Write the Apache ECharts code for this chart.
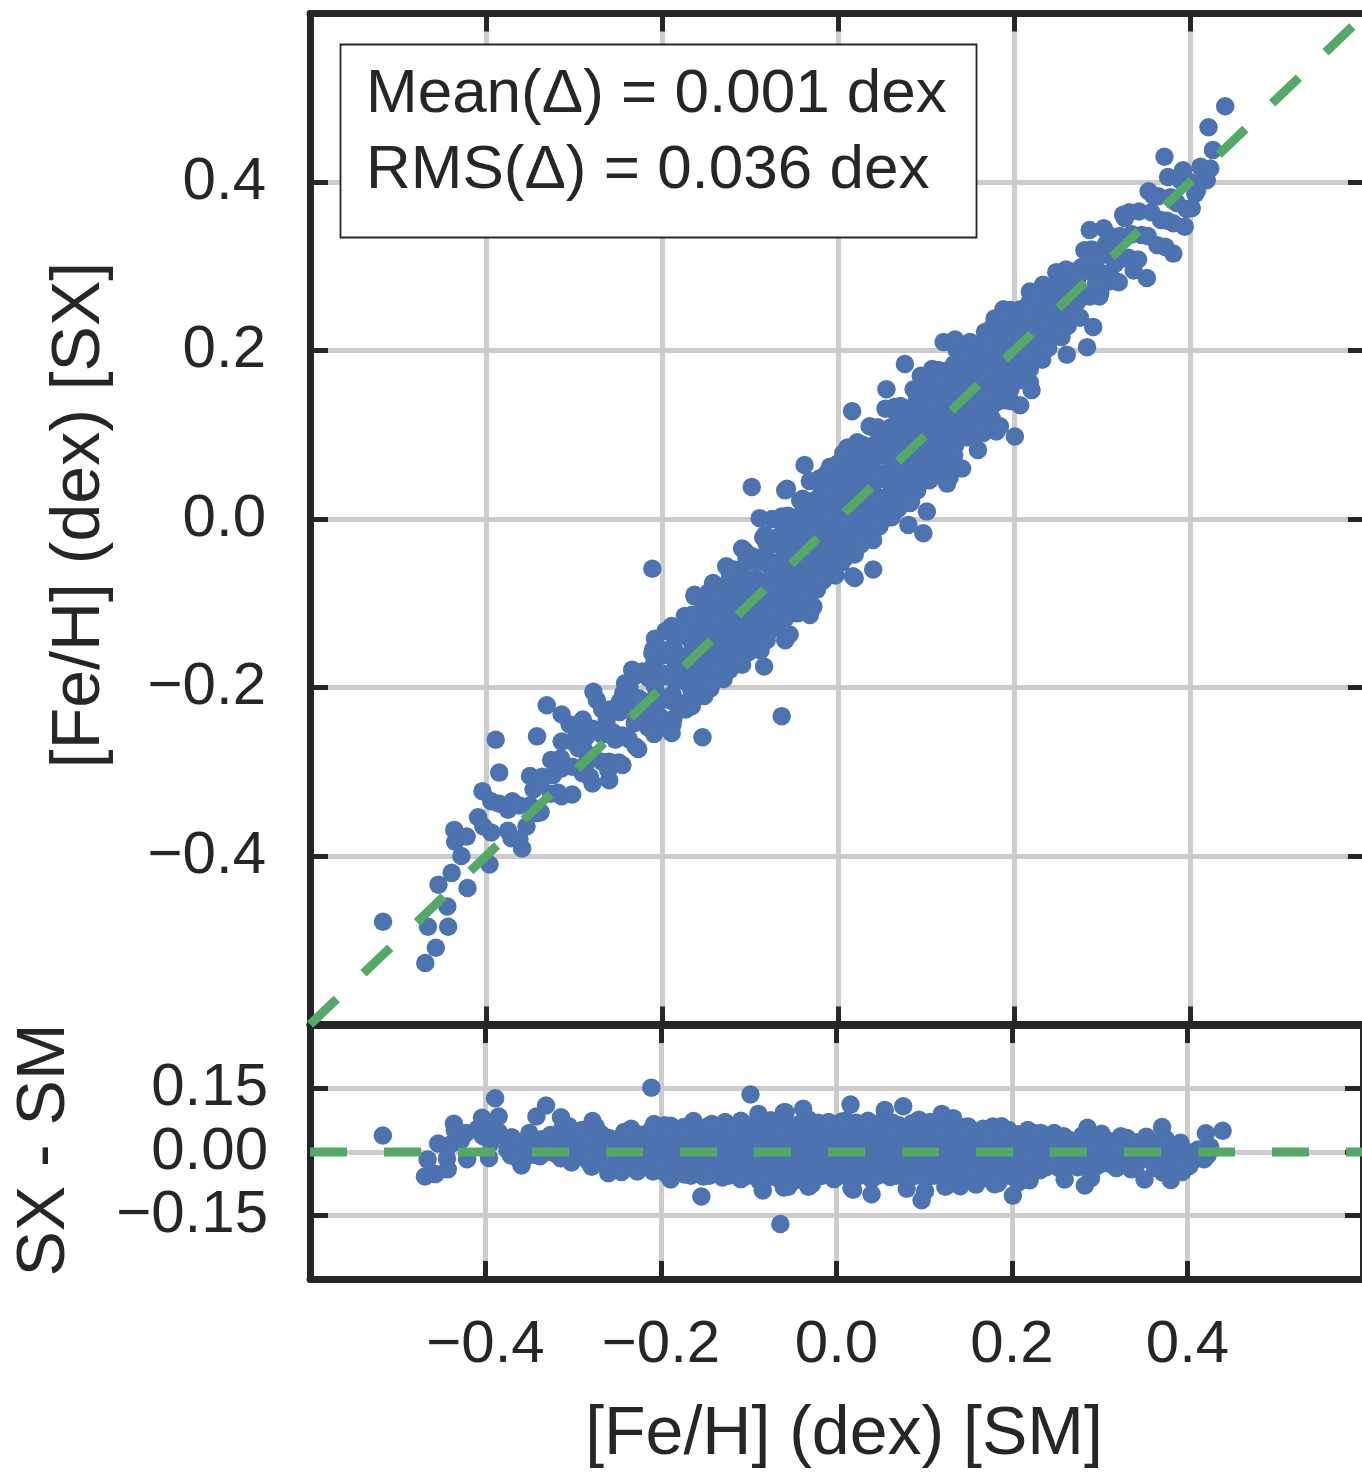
<!DOCTYPE html>
<html>
<head>
<meta charset="utf-8">
<script src="https://cdn.jsdelivr.net/npm/echarts@6/dist/echarts.min.js"></script>
<style>
html,body{margin:0;padding:0;background:#fff;overflow:hidden;}
#chart{width:1366px;height:1472px;}
</style>
</head>
<body>
<div id="chart"></div>
<script>
// ---- data: [Fe/H] SM (x) , [Fe/H] SX (y) pairs ----
const xTicks = [-0.4, -0.2, 0.0, 0.2, 0.4];
const yTicksMain = [-0.4, -0.2, 0.0, 0.2, 0.4];
const yTicksResid = [-0.15, 0.0, 0.15];
const oneToOne = [[-0.6, -0.6], [0.6, 0.6]];
const zeroLine = [[-0.6, 0], [0.6, 0]];

const lowTail = [
[-0.517,-0.478],[-0.469,-0.527],[-0.457,-0.509],[-0.466,-0.484],[-0.443,-0.484],[-0.444,-0.460],[-0.454,-0.434],[-0.439,-0.420],[-0.421,-0.438],[-0.428,-0.400],
[-0.436,-0.369],[-0.435,-0.383],[-0.422,-0.377],[-0.409,-0.354],[-0.403,-0.365],[-0.394,-0.372],[-0.396,-0.410],[-0.404,-0.323],[-0.394,-0.335],[-0.385,-0.338],
[-0.370,-0.335],[-0.389,-0.262],[-0.385,-0.301],[-0.371,-0.379],[-0.359,-0.391],[-0.354,-0.365],[-0.342,-0.349],[-0.346,-0.321],[-0.336,-0.306],[-0.324,-0.304],
[-0.318,-0.325],[-0.315,-0.284],[-0.342,-0.258],[-0.331,-0.221],[-0.314,-0.232],[-0.305,-0.244],[-0.297,-0.256],[-0.286,-0.258],[-0.295,-0.272],[-0.286,-0.290],
[-0.282,-0.306],[-0.260,-0.310],[-0.261,-0.298],[-0.245,-0.292],[-0.263,-0.240],[-0.253,-0.262],[-0.278,-0.205],[-0.274,-0.215],[-0.248,-0.217],[-0.242,-0.195],
[-0.229,-0.235],[-0.214,-0.223],[-0.210,-0.242],
[-0.375,-0.370],[-0.375,-0.345],[-0.362,-0.380],[-0.362,-0.340],[-0.350,-0.340],[-0.350,-0.305],[-0.338,-0.348],[-0.338,-0.313],[-0.326,-0.326],[-0.326,-0.286],
[-0.314,-0.329],[-0.314,-0.296],[-0.314,-0.264],[-0.302,-0.327],[-0.302,-0.294],[-0.302,-0.264],[-0.290,-0.302],[-0.290,-0.270],[-0.290,-0.238],
[-0.279,-0.314],[-0.279,-0.281],[-0.279,-0.249],[-0.268,-0.288],[-0.268,-0.256],[-0.268,-0.226]
];

const edgeStars = [
[-0.211,-0.059],[-0.064,-0.234],[-0.189,-0.254],[-0.154,-0.259],[-0.098,0.038],[-0.038,0.064],[-0.058,0.036],
[-0.089,0.001],[-0.109,-0.035],[-0.120,-0.063],[-0.142,-0.076],[-0.163,-0.090],[-0.166,-0.114],[-0.176,-0.134],[-0.208,-0.142],[-0.210,-0.155],[-0.234,-0.179],
[-0.202,-0.235],[-0.145,-0.199],[-0.084,-0.175],[-0.060,-0.144],[-0.081,-0.144],[-0.028,-0.104],[0.017,-0.068],[0.006,0.078],[-0.013,0.054],[-0.060,0.034],
[-0.011,0.053],[0.016,0.128],[0.036,0.110],[0.055,0.154],[0.076,0.184],[0.094,0.170],[0.120,0.210],[0.133,0.213],[0.178,0.238],[0.194,0.236],
[0.207,0.135],[0.201,0.098],[0.159,0.082],[0.180,0.104],[0.165,0.102],[0.141,0.060],[0.127,0.050],[0.101,0.009],[0.097,-0.017],[0.080,-0.007],
[0.082,0.019],[0.040,-0.060],[0.019,-0.070],[-0.118,-0.060],
[-0.009,0.062],[0.150,0.210],[0.192,0.244],[0.233,0.278],[0.124,0.042],[0.158,0.104],[0.184,0.110],[-0.055,-0.137],[-0.032,-0.114],[-0.111,-0.170]
];

const upperStars = [
[0.440,0.490],[0.421,0.465],[0.371,0.430],[0.426,0.438],[0.423,0.416],[0.419,0.402],
[0.392,0.414],[0.404,0.398],[0.406,0.386],[0.402,0.369],[0.358,0.384],[0.394,0.347],[0.381,0.351],[0.381,0.315],[0.372,0.323],[0.351,0.286],
[0.336,0.295],[0.326,0.357],[0.286,0.343],[0.288,0.320],[0.305,0.327],[0.317,0.329],[0.277,0.299],[0.313,0.284],[0.298,0.268],[0.235,0.276],
[0.252,0.286],[0.226,0.266],[0.290,0.228],[0.283,0.204],[0.260,0.195],[0.249,0.224],[0.171,0.208],[0.141,0.193],[0.220,0.153],[0.116,0.165],
[0.266,0.240],[0.268,0.267],[0.265,0.294],[0.275,0.239],[0.279,0.266],[0.276,0.293],[0.280,0.319],
[0.286,0.264],[0.290,0.292],[0.287,0.318],[0.297,0.264],[0.301,0.291],[0.298,0.319],[0.302,0.345],
[0.308,0.282],[0.312,0.310],[0.309,0.336],[0.319,0.281],[0.323,0.309],[0.320,0.336],[0.324,0.361],
[0.330,0.310],[0.334,0.338],[0.331,0.364],[0.341,0.308],[0.345,0.337],[0.342,0.365],
[0.352,0.336],[0.356,0.364],[0.353,0.389],[0.363,0.325],[0.367,0.355],[0.364,0.383],
[0.374,0.354],[0.378,0.382],[0.375,0.406],[0.385,0.375],[0.389,0.402],[0.396,0.368],[0.400,0.400],[0.408,0.390],[0.412,0.418],
[0.272,0.258],[0.272,0.284],[0.293,0.279],[0.293,0.305],[0.315,0.303],[0.315,0.329]
];

const coreStars = [
[-0.260,-0.288],[-0.256,-0.253],[-0.259,-0.226],
[-0.249,-0.289],[-0.245,-0.257],[-0.248,-0.229],[-0.244,-0.207],
[-0.238,-0.261],[-0.234,-0.228],[-0.237,-0.200],
[-0.227,-0.273],[-0.223,-0.240],[-0.226,-0.213],[-0.222,-0.181],
[-0.216,-0.247],[-0.212,-0.216],[-0.215,-0.189],[-0.211,-0.159],
[-0.205,-0.243],[-0.201,-0.215],[-0.204,-0.187],[-0.200,-0.162],
[-0.195,-0.245],[-0.191,-0.215],[-0.194,-0.187],[-0.190,-0.163],[-0.196,-0.133],
[-0.184,-0.218],[-0.180,-0.190],[-0.183,-0.162],[-0.179,-0.135],
[-0.173,-0.226],[-0.169,-0.197],[-0.172,-0.169],[-0.168,-0.143],[-0.174,-0.115],
[-0.162,-0.203],[-0.158,-0.174],[-0.161,-0.147],[-0.157,-0.120],[-0.163,-0.092],
[-0.152,-0.210],[-0.148,-0.180],[-0.151,-0.154],[-0.147,-0.128],[-0.153,-0.101],
[-0.141,-0.186],[-0.137,-0.157],[-0.140,-0.130],[-0.136,-0.104],[-0.142,-0.077],
[-0.130,-0.190],[-0.126,-0.161],[-0.129,-0.134],[-0.125,-0.108],[-0.131,-0.082],[-0.127,-0.056],
[-0.120,-0.168],[-0.116,-0.139],[-0.119,-0.112],[-0.115,-0.086],
[-0.109,-0.173],[-0.105,-0.145],[-0.108,-0.117],[-0.104,-0.091],[-0.110,-0.064],[-0.106,-0.038],
[-0.099,-0.151],[-0.095,-0.123],[-0.098,-0.096],[-0.094,-0.070],[-0.100,-0.043],
[-0.088,-0.156],[-0.084,-0.128],[-0.087,-0.100],[-0.083,-0.074],[-0.089,-0.048],[-0.085,-0.022],
[-0.078,-0.133],[-0.074,-0.105],[-0.077,-0.078],[-0.073,-0.052],[-0.079,-0.026],[-0.075,0.000],
[-0.067,-0.129],[-0.063,-0.101],[-0.066,-0.073],[-0.062,-0.047],[-0.068,-0.021],[-0.064,0.003],
[-0.056,-0.104],[-0.052,-0.076],[-0.055,-0.049],[-0.051,-0.023],[-0.057,0.004],
[-0.046,-0.112],[-0.042,-0.084],[-0.045,-0.056],[-0.041,-0.030],[-0.047,-0.004],[-0.043,0.022],
[-0.035,-0.088],[-0.031,-0.060],[-0.034,-0.033],[-0.030,-0.007],[-0.036,0.019],[-0.032,0.045],
[-0.024,-0.084],[-0.020,-0.056],[-0.023,-0.029],[-0.019,-0.003],[-0.025,0.023],[-0.021,0.048],
[-0.014,-0.060],[-0.010,-0.032],[-0.013,-0.005],[-0.009,0.021],[-0.015,0.048],
[-0.003,-0.067],[0.001,-0.039],[-0.002,-0.012],[0.002,0.014],[-0.004,0.040],[0.000,0.066],
[0.008,-0.046],[0.012,-0.018],[0.009,0.008],[0.013,0.034],[0.007,0.060],[0.011,0.085],
[0.019,-0.042],[0.023,-0.014],[0.020,0.013],[0.024,0.039],[0.018,0.065],[0.022,0.091],
[0.029,-0.019],[0.033,0.009],[0.030,0.035],[0.034,0.061],[0.028,0.088],
[0.040,-0.025],[0.044,0.002],[0.041,0.029],[0.045,0.055],[0.039,0.081],[0.043,0.107],
[0.051,-0.001],[0.055,0.026],[0.052,0.053],[0.056,0.079],[0.050,0.105],[0.054,0.131],
[0.061,0.002],[0.065,0.030],[0.062,0.057],[0.066,0.083],[0.060,0.109],[0.064,0.133],
[0.072,0.027],[0.076,0.055],[0.073,0.082],[0.077,0.108],[0.071,0.134],
[0.083,0.021],[0.087,0.049],[0.084,0.076],[0.088,0.102],[0.082,0.128],[0.086,0.154],
[0.093,0.043],[0.097,0.071],[0.094,0.098],[0.098,0.124],[0.092,0.150],
[0.104,0.046],[0.108,0.074],[0.105,0.101],[0.109,0.127],[0.103,0.153],[0.107,0.178],
[0.115,0.072],[0.119,0.099],[0.116,0.126],[0.120,0.152],[0.114,0.177],
[0.125,0.069],[0.129,0.097],[0.126,0.124],[0.130,0.150],[0.124,0.176],
[0.136,0.094],[0.140,0.122],[0.137,0.149],[0.141,0.175],[0.135,0.200],
[0.147,0.097],[0.151,0.126],[0.148,0.153],[0.152,0.179],[0.146,0.205],
[0.157,0.119],[0.161,0.147],[0.158,0.174],[0.162,0.201],
[0.168,0.114],[0.172,0.143],[0.169,0.170],[0.173,0.197],[0.167,0.222],
[0.179,0.138],[0.183,0.166],[0.180,0.193],[0.184,0.219],
[0.189,0.141],[0.193,0.169],[0.190,0.197],[0.194,0.224],[0.188,0.249],
[0.200,0.165],[0.204,0.192],[0.201,0.219],[0.205,0.245],
[0.211,0.165],[0.215,0.193],[0.212,0.221],[0.216,0.248],
[0.221,0.190],[0.225,0.218],[0.222,0.245],[0.226,0.270],
[0.232,0.189],[0.236,0.217],[0.233,0.244],[0.237,0.270],
[0.243,0.215],[0.247,0.242],[0.244,0.269],[0.248,0.293],
[0.254,0.216],[0.258,0.243],[0.255,0.270],[0.259,0.296]
];

const fillStars = [
[-0.155,-0.183],[-0.155,-0.155],[-0.155,-0.125],
[-0.134,-0.174],[-0.134,-0.146],[-0.134,-0.116],[-0.134,-0.086],
[-0.112,-0.142],[-0.112,-0.112],[-0.112,-0.084],
[-0.091,-0.136],[-0.091,-0.106],[-0.091,-0.076],[-0.091,-0.046],
[-0.070,-0.090],[-0.070,-0.060],[-0.070,-0.030],
[-0.049,-0.084],[-0.049,-0.054],[-0.049,-0.024],[-0.049,0.001],
[-0.028,-0.070],[-0.028,-0.042],[-0.028,-0.014],[-0.028,0.012],
[-0.006,-0.034],[-0.006,-0.004],[-0.006,0.024],[-0.006,0.049],
[0.015,-0.030],[0.015,0.000],[0.015,0.027],[0.015,0.053],
[0.036,0.006],[0.036,0.034],[0.036,0.062],[0.036,0.086],
[0.058,0.018],[0.058,0.046],[0.058,0.073],[0.058,0.098],
[0.079,0.054],[0.079,0.081],[0.079,0.107],[0.079,0.131],
[0.100,0.062],[0.100,0.090],[0.100,0.116],[0.100,0.142],
[0.122,0.094],[0.122,0.122],[0.122,0.147],
[0.143,0.108],[0.143,0.135],[0.143,0.161],[0.143,0.186],
[0.165,0.143],[0.165,0.170],[0.165,0.195]
];

const denseStars = [
[-0.230,-0.270],[-0.231,-0.242],[-0.229,-0.214],[-0.230,-0.186],
[-0.209,-0.255],[-0.210,-0.227],[-0.208,-0.199],[-0.209,-0.171],
[-0.187,-0.237],[-0.188,-0.208],[-0.186,-0.179],[-0.187,-0.151],[-0.189,-0.127],
[-0.166,-0.206],[-0.167,-0.178],[-0.165,-0.150],[-0.166,-0.122],
[-0.145,-0.197],[-0.146,-0.169],[-0.144,-0.141],[-0.145,-0.113],[-0.147,-0.087],
[-0.123,-0.169],[-0.124,-0.141],[-0.122,-0.113],[-0.123,-0.085],[-0.125,-0.059],
[-0.102,-0.158],[-0.103,-0.130],[-0.101,-0.102],[-0.102,-0.074],[-0.104,-0.046],
[-0.081,-0.131],[-0.082,-0.103],[-0.080,-0.075],[-0.081,-0.047],[-0.083,-0.019],
[-0.060,-0.118],[-0.061,-0.090],[-0.059,-0.062],[-0.060,-0.034],[-0.062,-0.006],
[-0.038,-0.088],[-0.039,-0.060],[-0.037,-0.032],[-0.038,-0.004],[-0.040,0.024],
[-0.017,-0.073],[-0.018,-0.045],[-0.016,-0.017],[-0.017,0.011],[-0.019,0.039],
[0.004,-0.048],[0.003,-0.020],[0.005,0.008],[0.004,0.036],[0.002,0.062],
[0.026,-0.030],[0.025,-0.002],[0.027,0.026],[0.026,0.054],[0.024,0.082],
[0.047,-0.003],[0.046,0.025],[0.048,0.053],[0.047,0.081],[0.045,0.109],
[0.069,0.015],[0.068,0.043],[0.070,0.071],[0.069,0.099],[0.067,0.125],
[0.090,0.042],[0.089,0.070],[0.091,0.098],[0.090,0.126],[0.088,0.152],
[0.111,0.059],[0.110,0.087],[0.112,0.115],[0.111,0.143],[0.109,0.169],
[0.133,0.087],[0.132,0.115],[0.134,0.143],[0.133,0.171],
[0.154,0.106],[0.153,0.134],[0.155,0.162],[0.154,0.190],
[0.175,0.135],[0.174,0.163],[0.176,0.191],[0.175,0.219],
[0.186,0.158],[0.187,0.186],[0.185,0.212],
[0.196,0.154],[0.195,0.182],[0.197,0.210],[0.196,0.236],
[0.207,0.177],[0.208,0.205],[0.206,0.233],
[0.218,0.178],[0.217,0.206],[0.219,0.234],[0.218,0.258],
[0.228,0.204],[0.229,0.232],[0.227,0.258],
[0.239,0.203],[0.238,0.231],[0.240,0.259],
[0.250,0.226],[0.251,0.254],[0.249,0.280],
[0.261,0.229],[0.260,0.257],[0.262,0.283]
];

const packStars = [
[-0.198,-0.240],[-0.198,-0.212],[-0.198,-0.184],[-0.198,-0.156],
[-0.188,-0.244],[-0.188,-0.216],[-0.188,-0.188],[-0.188,-0.160],[-0.188,-0.136],
[-0.177,-0.219],[-0.177,-0.191],[-0.177,-0.163],[-0.177,-0.135],
[-0.166,-0.222],[-0.166,-0.194],[-0.166,-0.166],[-0.166,-0.138],[-0.166,-0.114],
[-0.155,-0.197],[-0.155,-0.169],[-0.155,-0.141],[-0.155,-0.113],
[-0.145,-0.201],[-0.145,-0.173],[-0.145,-0.145],[-0.145,-0.117],[-0.145,-0.093],
[-0.134,-0.176],[-0.134,-0.148],[-0.134,-0.120],[-0.134,-0.092],
[-0.123,-0.179],[-0.123,-0.151],[-0.123,-0.123],[-0.123,-0.095],[-0.123,-0.071],
[-0.113,-0.155],[-0.113,-0.127],[-0.113,-0.099],[-0.113,-0.071],
[-0.102,-0.158],[-0.102,-0.130],[-0.102,-0.102],[-0.102,-0.074],[-0.102,-0.050],
[-0.092,-0.134],[-0.092,-0.106],[-0.092,-0.078],[-0.092,-0.050],
[-0.081,-0.137],[-0.081,-0.109],[-0.081,-0.081],[-0.081,-0.053],[-0.081,-0.029],
[-0.071,-0.113],[-0.071,-0.085],[-0.071,-0.057],[-0.071,-0.029],
[-0.060,-0.116],[-0.060,-0.088],[-0.060,-0.060],[-0.060,-0.032],[-0.060,-0.008],
[-0.049,-0.091],[-0.049,-0.063],[-0.049,-0.035],[-0.049,-0.007],
[-0.039,-0.095],[-0.039,-0.067],[-0.039,-0.039],[-0.039,-0.011],[-0.039,0.013],
[-0.028,-0.070],[-0.028,-0.042],[-0.028,-0.014],[-0.028,0.014],
[-0.017,-0.073],[-0.017,-0.045],[-0.017,-0.017],[-0.017,0.011],[-0.017,0.035],
[-0.007,-0.049],[-0.007,-0.021],[-0.007,0.007],[-0.007,0.035],
[0.004,-0.052],[0.004,-0.024],[0.004,0.004],[0.004,0.032],[0.004,0.056],
[0.015,-0.027],[0.015,0.001],[0.015,0.029],[0.015,0.057],
[0.026,-0.030],[0.026,-0.002],[0.026,0.026],[0.026,0.054],[0.026,0.078],
[0.036,-0.006],[0.036,0.022],[0.036,0.050],[0.036,0.078],
[0.047,-0.009],[0.047,0.019],[0.047,0.047],[0.047,0.075],[0.047,0.099],
[0.058,0.016],[0.058,0.044],[0.058,0.072],[0.058,0.100],
[0.068,0.012],[0.068,0.040],[0.068,0.068],[0.068,0.096],[0.068,0.120],
[0.079,0.037],[0.079,0.065],[0.079,0.093],[0.079,0.121],
[0.090,0.034],[0.090,0.062],[0.090,0.090],[0.090,0.118],[0.090,0.142],
[0.100,0.058],[0.100,0.086],[0.100,0.114],[0.100,0.142],
[0.111,0.055],[0.111,0.083],[0.111,0.111],[0.111,0.139],[0.111,0.163],
[0.122,0.080],[0.122,0.108],[0.122,0.136],[0.122,0.164],
[0.132,0.076],[0.132,0.104],[0.132,0.132],[0.132,0.160],[0.132,0.184],
[0.143,0.101],[0.143,0.129],[0.143,0.157],[0.143,0.185],
[0.154,0.098],[0.154,0.126],[0.154,0.154],[0.154,0.182],[0.154,0.206],
[0.164,0.122],[0.164,0.150],[0.164,0.178],[0.164,0.206],
[0.175,0.119],[0.175,0.147],[0.175,0.175],[0.175,0.203],[0.175,0.227],
[0.186,0.144],[0.186,0.172],[0.186,0.200],[0.186,0.228],
[0.196,0.140],[0.196,0.168],[0.196,0.196],[0.196,0.224],[0.196,0.248],
[0.207,0.165],[0.207,0.193],[0.207,0.221],[0.207,0.249],
[0.218,0.162],[0.218,0.190],[0.218,0.218],[0.218,0.246],[0.218,0.270]
];

const stars = [].concat(lowTail, coreStars, fillStars, denseStars, packStars, edgeStars, upperStars);
const resid = stars.map(p => [p[0], +(p[1] - p[0]).toFixed(4)]);

// ---- styling ----
const INK = '#262626', GRIDC = '#cccccc', BLUE = '#4c72b0', GREEN = '#55a868';
const FONT = '"Liberation Sans", Arial, Helvetica, sans-serif';
const fmt = (d) => (v) => {
  if (Math.abs(v) > 0.55 && d === 1) return '';
  if (Math.abs(v) > 0.29 && d === 2) return '';
  if (Math.abs(v) < 1e-9) v = 0;
  return v.toFixed(d).replace('-', '\u2212');
};
function axis(base) {
  return Object.assign({
    type: 'value',
    axisLine: { show: true, onZero: false, lineStyle: { color: INK, width: 7 } },
    axisTick: { show: true, inside: true, length: 18, lineStyle: { color: INK, width: 5 } },
    axisLabel: { show: false },
    splitLine: { show: false },
    silent: true
  }, base);
}
const splitOn = { show: true, lineStyle: { color: GRIDC, width: 5 } };
const labelStyle = (d, margin) => ({ show: true, color: INK, fontSize: 60, fontFamily: FONT, margin: margin, formatter: fmt(d) });

const option = {
  animation: false,
  backgroundColor: '#ffffff',
  grid: [
    { left: 310, top: 13.5, width: 1056, height: 1011 },
    { left: 310, top: 1025, width: 1056, height: 254 }
  ],
  xAxis: [
    axis({ gridIndex: 0, position: 'bottom', min: -0.6, max: 0.6, interval: 0.2, splitLine: splitOn }),
    axis({ gridIndex: 0, position: 'top', min: -0.6, max: 0.6, interval: 0.2 }),
    axis({ gridIndex: 1, position: 'bottom', min: -0.6, max: 0.6, interval: 0.2, splitLine: splitOn, axisLabel: labelStyle(1, 36) }),
    axis({ gridIndex: 1, position: 'top', min: -0.6, max: 0.6, interval: 0.2 })
  ],
  yAxis: [
    axis({ gridIndex: 0, position: 'left', min: -0.6, max: 0.6, interval: 0.2, splitLine: splitOn, axisLabel: labelStyle(1, 44) }),
    axis({ gridIndex: 0, position: 'right', min: -0.6, max: 0.6, interval: 0.2 }),
    axis({ gridIndex: 1, position: 'left', min: -0.3, max: 0.3, interval: 0.15, splitLine: splitOn, axisLabel: labelStyle(2, 42) }),
    axis({ gridIndex: 1, position: 'right', min: -0.3, max: 0.3, interval: 0.15 })
  ],
  series: [
    { type: 'scatter', xAxisIndex: 0, yAxisIndex: 0, data: stars, symbol: 'circle', symbolSize: 18.5,
      itemStyle: { color: BLUE, opacity: 1, borderWidth: 0 }, z: 3, silent: true, large: false, progressive: 0 },
    { type: 'line', xAxisIndex: 0, yAxisIndex: 0, data: oneToOne, symbol: 'none',
      lineStyle: { color: GREEN, width: 9, type: [37, 37], cap: 'butt' }, z: 4, silent: true },
    { type: 'scatter', xAxisIndex: 2, yAxisIndex: 2, data: resid, symbol: 'circle', symbolSize: 18.5,
      itemStyle: { color: BLUE, opacity: 1, borderWidth: 0 }, z: 3, silent: true, large: false, progressive: 0 },
    { type: 'line', xAxisIndex: 2, yAxisIndex: 2, data: zeroLine, symbol: 'none',
      lineStyle: { color: GREEN, width: 9, type: [37, 37], cap: 'butt' }, z: 4, silent: true }
  ],
  graphic: [
    { type: 'rect', z: 100, shape: { x: 340.5, y: 44.5, width: 636, height: 193 },
      style: { fill: '#ffffff', stroke: INK, lineWidth: 1.8 } },
    { type: 'text', z: 101, x: 366, y: 95,
      style: { text: 'Mean(\u0394) = 0.001 dex', fill: INK, fontSize: 62, fontFamily: FONT, align: 'left', textAlign: 'left', verticalAlign: 'middle', textVerticalAlign: 'middle' } },
    { type: 'text', z: 101, x: 366, y: 171,
      style: { text: 'RMS(\u0394) = 0.036 dex', fill: INK, fontSize: 62, fontFamily: FONT, align: 'left', textAlign: 'left', verticalAlign: 'middle', textVerticalAlign: 'middle' } },
    { type: 'text', z: 101, x: 844, y: 1435,
      style: { text: '[Fe/H] (dex) [SM]', fill: INK, fontSize: 68, fontFamily: FONT, align: 'center', textAlign: 'center', verticalAlign: 'middle', textVerticalAlign: 'middle' } },
    { type: 'text', z: 101, x: 80, y: 515, rotation: Math.PI / 2,
      style: { text: '[Fe/H] (dex) [SX]', fill: INK, fontSize: 68, fontFamily: FONT, align: 'center', textAlign: 'center', verticalAlign: 'middle', textVerticalAlign: 'middle' } },
    { type: 'text', z: 101, x: 45, y: 1150, rotation: Math.PI / 2,
      style: { text: 'SX - SM', fill: INK, fontSize: 68, fontFamily: FONT, align: 'center', textAlign: 'center', verticalAlign: 'middle', textVerticalAlign: 'middle' } }
  ]
};
const chart = echarts.init(document.getElementById('chart'), null, { renderer: 'canvas' });
chart.setOption(option);
</script>
</body>
</html>
